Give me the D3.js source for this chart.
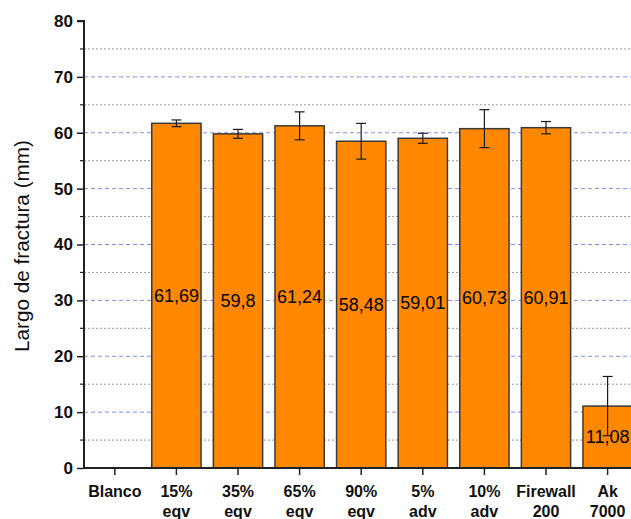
<!DOCTYPE html>
<html><head><meta charset="utf-8">
<script src="https://cdn.jsdelivr.net/npm/d3@7"></script>
<style>body{margin:0;background:#fff;}svg{display:block;font-family:"Liberation Sans",Arial,sans-serif;}</style>
</head><body><svg id="c" width="631" height="519"></svg>
<script>
const categories = [["Blanco"],["15%","eqv"],["35%","eqv"],["65%","eqv"],["90%","eqv"],["5%","adv"],["10%","adv"],["Firewall","200"],["Ak","7000"]];
const values = [null, 61.69, 59.8, 61.24, 58.48, 59.01, 60.73, 60.91, 11.08];
const errors = [null, 0.6, 0.8, 2.5, 3.2, 0.9, 3.4, 1.1, 5.3];
const valueLabels = [null, "61,69", "59,8", "61,24", "58,48", "59,01", "60,73", "60,91", "11,08"];
const yMajorTicks = [0,10,20,30,40,50,60,70,80];
const yMinorTicks = [5,15,25,35,45,55,65,75];
const yTitle = "Largo de fractura (mm)";

const svg = d3.select("#c");
const ids = categories.map((c,i)=>i);
const x = d3.scaleBand().domain(ids).range([84, 84+9*61.6]).paddingInner(0.2).paddingOuter(0.1);
const y = d3.scaleLinear().domain([0,80]).range([468,21]);
const right = 631;

// gridlines
svg.append("g").selectAll("line").data(yMinorTicks).join("line")
  .attr("x1",84).attr("x2",right).attr("y1",d=>y(d)).attr("y2",d=>y(d))
  .attr("stroke","#9a9a9a").attr("stroke-width",1).attr("stroke-dasharray","2,2");
svg.append("g").selectAll("line").data(yMajorTicks.filter(d=>d>0&&d<80)).join("line")
  .attr("x1",84).attr("x2",right).attr("y1",d=>y(d)).attr("y2",d=>y(d))
  .attr("stroke","#8c8cf0").attr("stroke-width",1).attr("stroke-dasharray","4,3");

// bars
const data = ids.filter(i=>values[i]!=null);
svg.append("g").selectAll("rect").data(data).join("rect")
  .attr("x",i=>x(i)).attr("width",x.bandwidth())
  .attr("y",i=>y(values[i])).attr("height",i=>y(0)-y(values[i]))
  .attr("fill","#ff8800").attr("stroke","#3a3a3a").attr("stroke-width",1.5);

// value labels
svg.append("g").selectAll("text").data(data).join("text")
  .attr("x",i=>x(i)+x.bandwidth()/2).attr("y",i=>(y(values[i])+y(0))/2+6)
  .attr("text-anchor","middle").attr("font-size",18).attr("fill","#000")
  .text(i=>valueLabels[i]);

// error bars
const eb = svg.append("g").attr("stroke","#1a1a1a").attr("stroke-width",1.2);
data.forEach(i=>{
  const cx = x(i)+x.bandwidth()/2;
  const t = y(values[i]+errors[i]), b = y(values[i]-errors[i]);
  eb.append("line").attr("x1",cx).attr("x2",cx).attr("y1",t).attr("y2",b);
  eb.append("line").attr("x1",cx-5).attr("x2",cx+5).attr("y1",t).attr("y2",t);
  eb.append("line").attr("x1",cx-5).attr("x2",cx+5).attr("y1",b).attr("y2",b);
});

// y axis
const yAxis = svg.append("g").attr("transform","translate(84,0)")
  .call(d3.axisLeft(y).tickValues(yMajorTicks).tickSize(7).tickPadding(4).tickFormat(d3.format("d")));
yAxis.select(".domain").attr("stroke","#222").attr("stroke-width",2).attr("d","M0,468V21H-7");
yAxis.selectAll(".tick line").attr("stroke","#222").attr("stroke-width",1.5);
yAxis.selectAll("text").attr("font-size",17).attr("font-weight","bold").attr("fill","#111")
  .attr("font-family","'Liberation Sans',Arial,sans-serif");
svg.append("g").attr("transform","translate(84,0)").selectAll("line").data(yMinorTicks).join("line")
  .attr("x1",-4).attr("x2",0).attr("y1",d=>y(d)).attr("y2",d=>y(d)).attr("stroke","#222").attr("stroke-width",1.2);

// x axis
const xAxis = svg.append("g").attr("transform","translate(0,468)")
  .call(d3.axisBottom(x).tickSize(7).tickFormat(""));
xAxis.select(".domain").attr("stroke","#222").attr("stroke-width",2).attr("d","M83,0H"+(84+9*61.6));
xAxis.selectAll(".tick line").attr("stroke","#222").attr("stroke-width",1.5);
xAxis.selectAll(".tick").each(function(i){
  const t = d3.select(this).append("text").attr("fill","#111").attr("font-size",16).attr("font-weight","bold")
    .attr("text-anchor","middle").attr("y",29);
  categories[i].forEach((line,k)=>{
    t.append("tspan").attr("x",0).attr("dy",k===0?0:20).text(line);
  });
});

// y title
svg.append("text").attr("transform","translate(29,246) rotate(-90)")
  .attr("text-anchor","middle").attr("font-size",20).attr("fill","#111")
  .attr("textLength",212).attr("lengthAdjust","spacingAndGlyphs")
  .text(yTitle);
</script></body></html>
